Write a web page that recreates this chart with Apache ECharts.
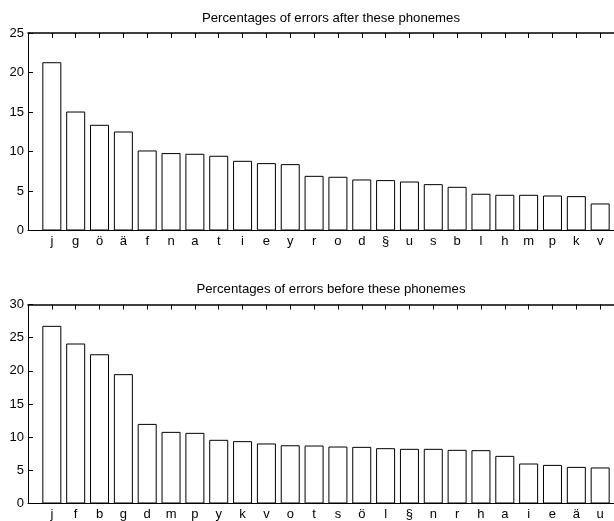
<!DOCTYPE html>
<html>
<head>
<meta charset="utf-8">
<script src="https://cdn.jsdelivr.net/npm/echarts@6/dist/echarts.min.js"></script>
<style>
  html, body { margin: 0; padding: 0; background: #fff; overflow: hidden; }
  /* the plot boxes run past the right edge of the window */
  #chart { width: 640px; height: 521px; }
</style>
</head>
<body>
<div id="chart"></div>
<script>
// Phonemes ranked by share of errors that follow them
const afterPhonemes = ['j','g','ö','ä','f','n','a','t','i','e','y','r','o','d','§','u','s','b','l','h','m','p','k','v'];
const afterValues = [21.3,15.06,13.38,12.53,10.13,9.8,9.71,9.46,8.82,8.53,8.4,6.92,6.8,6.46,6.38,6.2,5.87,5.53,4.65,4.52,4.52,4.43,4.35,3.42];

// Phonemes ranked by share of errors that precede them
const beforePhonemes = ['j','f','b','g','d','m','p','y','k','v','o','t','s','ö','l','§','n','r','h','a','i','e','ä','u'];
const beforeValues = [26.78,24.12,22.5,19.5,12.0,10.8,10.65,9.6,9.4,9.05,8.78,8.74,8.59,8.54,8.34,8.24,8.24,8.09,8.04,7.18,6.03,5.82,5.52,5.43];

const topYTicks = [0, 5, 10, 15, 20, 25];
const bottomYTicks = [0, 5, 10, 15, 20, 25, 30];

const FONT = 'Liberation Sans, Arial, Helvetica, sans-serif';
const chart = echarts.init(document.getElementById('chart'), null, { renderer: 'canvas' });

function pairs(values) {
  return values.map((v, i) => [i + 1, v]);
}

function xAxes(gridIndex, cats) {
  return [
    {
      type: 'value', gridIndex, min: 0, max: cats.length + 1, interval: 1,
      axisLine: { show: true, onZero: false, lineStyle: { color: '#000', width: 1 } },
      axisTick: { show: true, inside: true, length: 5, lineStyle: { color: '#000' } },
      axisLabel: {
        color: '#000', fontFamily: FONT, fontSize: 13, margin: 4,
        formatter: v => cats[v - 1] || ''
      },
      splitLine: { show: false }
    },
    {
      type: 'value', gridIndex, position: 'top', min: 0, max: cats.length + 1, interval: 1,
      axisLine: { show: true, onZero: false, lineStyle: { color: '#000', width: 1.5 } },
      axisTick: { show: true, inside: true, length: 5, lineStyle: { color: '#000' } },
      axisLabel: { show: false },
      splitLine: { show: false }
    }
  ];
}

function yAxes(gridIndex, ticks) {
  return [
    {
      type: 'value', gridIndex, min: ticks[0], max: ticks[ticks.length - 1], interval: 5,
      axisLine: { show: true, onZero: false, lineStyle: { color: '#000', width: 1 } },
      axisTick: { show: true, inside: true, length: 5, lineStyle: { color: '#000' } },
      axisLabel: { color: '#000', fontFamily: FONT, fontSize: 13, margin: 4 },
      splitLine: { show: false }
    },
    {
      type: 'value', gridIndex, position: 'right', min: ticks[0], max: ticks[ticks.length - 1], interval: 5,
      axisLine: { show: true, onZero: false, lineStyle: { color: '#000', width: 1 } },
      axisTick: { show: true, inside: true, length: 5, lineStyle: { color: '#000' } },
      axisLabel: { show: false },
      splitLine: { show: false }
    }
  ];
}

const barStyle = { color: '#fff', borderColor: '#000', borderWidth: 1 };

chart.setOption({
  animation: false,
  backgroundColor: '#fff',
  title: [
    {
      text: 'Percentages of errors after these phonemes',
      left: 326, top: 7, textAlign: 'center',
      textStyle: { fontFamily: FONT, fontSize: 13.2, fontWeight: 'normal', color: '#000' }
    },
    {
      text: 'Percentages of errors before these phonemes',
      left: 326, top: 278, textAlign: 'center',
      textStyle: { fontFamily: FONT, fontSize: 13.2, fontWeight: 'normal', color: '#000' }
    }
  ],
  grid: [
    { left: 28, top: 33, width: 596, height: 197.5 },
    { left: 28, top: 304.5, width: 596, height: 199 }
  ],
  xAxis: [...xAxes(0, afterPhonemes), ...xAxes(1, beforePhonemes)],
  yAxis: [...yAxes(0, topYTicks), ...yAxes(1, bottomYTicks)],
  series: [
    {
      type: 'bar', xAxisIndex: 0, yAxisIndex: 0, barWidth: 19,
      itemStyle: barStyle, data: pairs(afterValues)
    },
    {
      type: 'bar', xAxisIndex: 2, yAxisIndex: 2, barWidth: 19,
      itemStyle: barStyle, data: pairs(beforeValues)
    }
  ]
});
</script>
</body>
</html>
